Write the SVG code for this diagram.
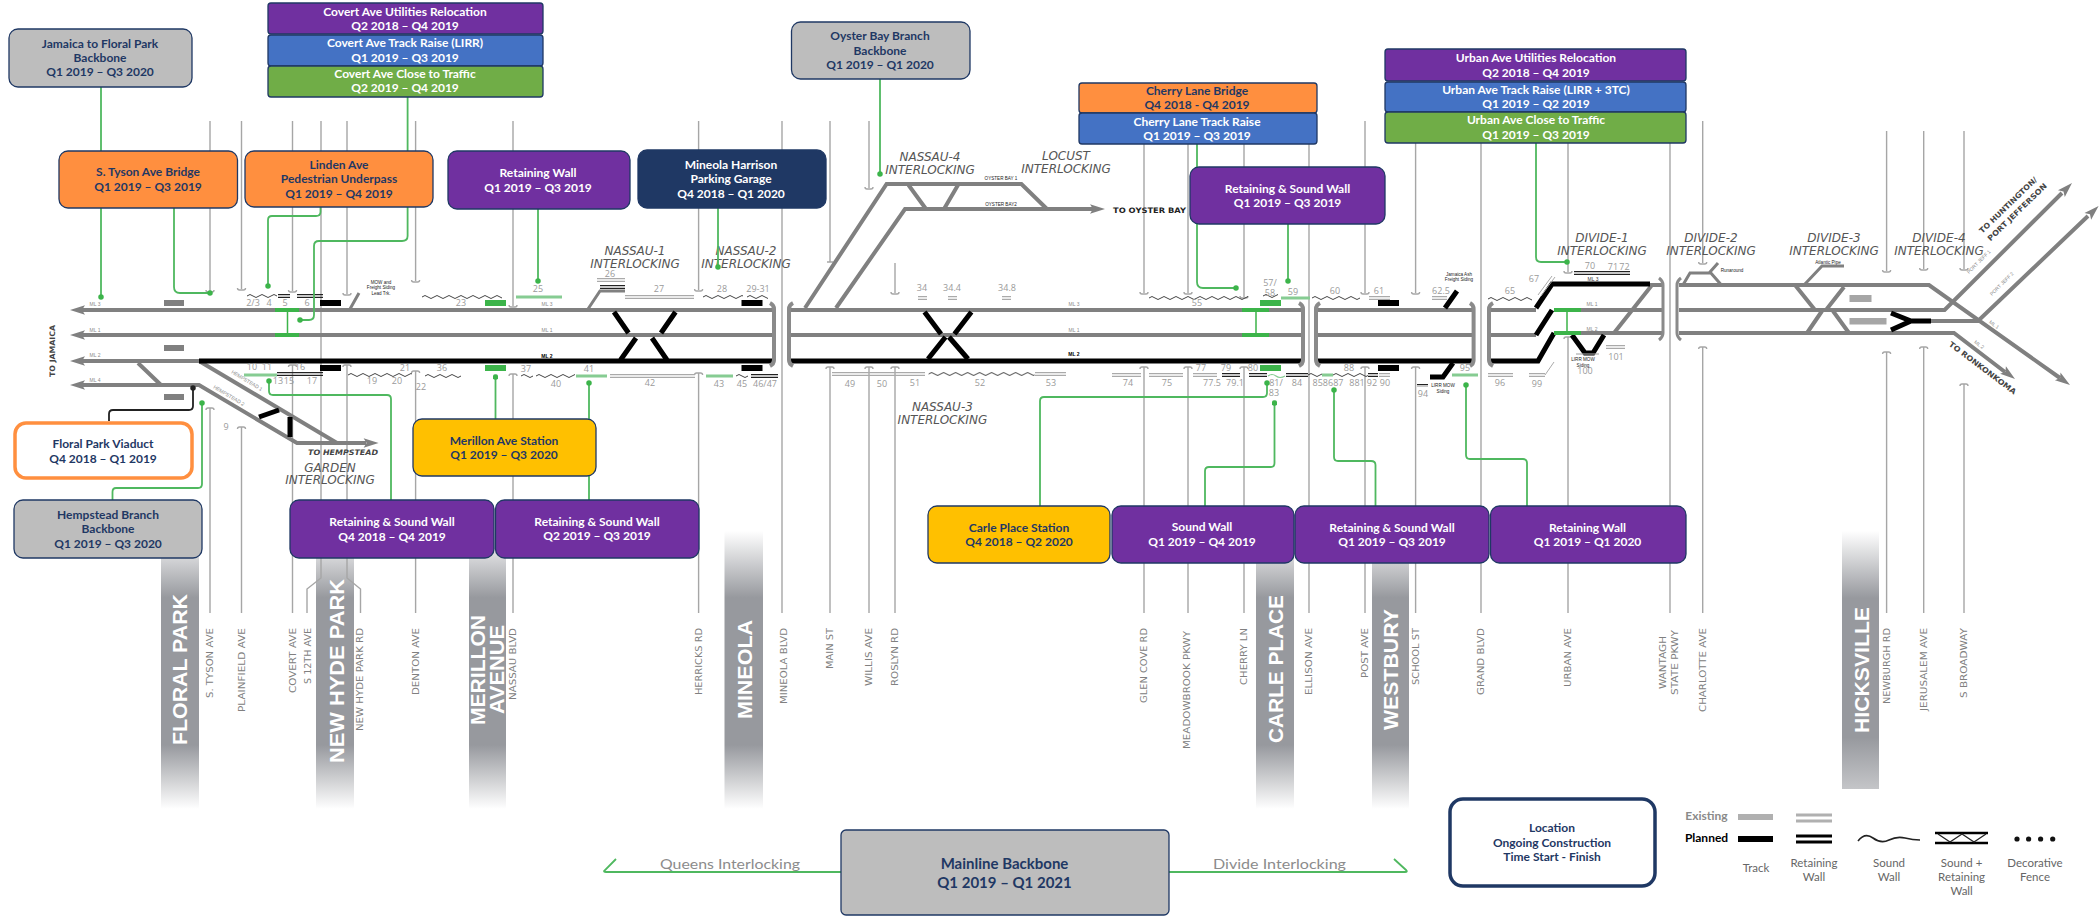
<svg xmlns="http://www.w3.org/2000/svg" width="2100" height="916" viewBox="0 0 2100 916">
<style>
text{font-family:"Liberation Sans",Arial,sans-serif}
.bx{stroke:#1f3864;stroke-width:1.3}
.b{font-family:Lato,"Liberation Sans",sans-serif;font-weight:700;font-size:12px;text-anchor:middle}
.w{fill:#fff}.n{fill:#1f3864}
.pu{fill:#7030a0}.bl{fill:#4472c4}.gr{fill:#70ad47}.or{fill:#ff8f3f}.go{fill:#ffc000}.gy{fill:#bdbdbd}.nv{fill:#1f3864}
.st{fill:none;stroke:#a6a6a6;stroke-width:1.4}
.sl{font-family:"DejaVu Sans",sans-serif;font-size:8.5px;fill:#808080;text-anchor:end}
.bt{font-weight:700;font-size:21px;fill:#fff}
.t{fill:none;stroke:#808080;stroke-width:4}
.t2{fill:none;stroke:#808080;stroke-width:3}
.k{fill:none;stroke:#000;stroke-width:5}
.g{fill:none;stroke:#3cb44a;stroke-width:4}
.ah{fill:#808080}
.c{fill:none;stroke:#4fb85f;stroke-width:1.8;marker-end:url(#dot)}
.cn{fill:none;stroke:#4fb85f;stroke-width:1.8}
.num{font-family:"Open Sans","Liberation Sans",sans-serif;font-size:9px;fill:#9a9a9a;text-anchor:middle}
.ml{font-size:5px;fill:#8a8a8a;text-anchor:middle}
.mk{font-size:4.6px;fill:#222;text-anchor:middle}
.il{font-family:"DejaVu Sans",sans-serif;font-style:italic;font-size:12px;fill:#555;text-anchor:middle}
.dir{font-family:"DejaVu Sans",sans-serif;font-weight:700;font-size:7.5px;fill:#444;text-anchor:middle}
.lg{font-family:Lato,"Liberation Sans",sans-serif;font-size:11.5px;fill:#666;text-anchor:middle}
.sw{fill:url(#wv)}.rg{fill:url(#rg)}.rk{fill:url(#rk)}
</style>
<defs>
<linearGradient id="band" gradientUnits="userSpaceOnUse" x1="0" y1="531" x2="0" y2="809">
<stop offset="0" stop-color="#fff"/><stop offset=".24" stop-color="#97999e"/><stop offset=".77" stop-color="#97999e"/><stop offset="1" stop-color="#fff"/>
</linearGradient>
<linearGradient id="band2" gradientUnits="userSpaceOnUse" x1="0" y1="531" x2="0" y2="789">
<stop offset="0" stop-color="#fff"/><stop offset=".26" stop-color="#97999e"/><stop offset=".8" stop-color="#97999e"/><stop offset="1" stop-color="#c4c5c8"/>
</linearGradient>
<pattern id="wv" patternUnits="userSpaceOnUse" width="12" height="6"><path d="M0 3Q3 0 6 3T12 3" fill="none" stroke="#444" stroke-width="1"/></pattern>
<pattern id="rg" patternUnits="userSpaceOnUse" width="10" height="4"><path d="M0 .6H10M0 3.4H10" stroke="#aaa" stroke-width="1.1"/></pattern>
<pattern id="rk" patternUnits="userSpaceOnUse" width="10" height="4"><path d="M0 .6H10M0 3.4H10" stroke="#222" stroke-width="1.1"/></pattern>
<marker id="dot" viewBox="0 0 6 6" refX="3" refY="3" markerUnits="userSpaceOnUse" markerWidth="5.5" markerHeight="5.5"><circle cx="3" cy="3" r="3" fill="#3cb44a"/></marker>
<marker id="dotk" viewBox="0 0 6 6" refX="3" refY="3" markerUnits="userSpaceOnUse" markerWidth="5.5" markerHeight="5.5"><circle cx="3" cy="3" r="3" fill="#222"/></marker>
<polygon id="ah" class="ah" points="0,0 -15,-4.8 -12,0 -15,4.8"/>
</defs>
<rect width="2100" height="916" fill="#fff"/>

<g id="station-bands">
<g fill="url(#band)">
<rect x="161" y="531" width="38" height="278"/><rect x="316" y="531" width="38" height="278"/><rect x="469" y="531" width="37" height="278"/><rect x="724.5" y="531" width="38.5" height="278"/><rect x="1256" y="531" width="38" height="278"/><rect x="1372" y="531" width="37" height="278"/>
</g>
<rect x="1842" y="531" width="37" height="258" fill="url(#band2)"/>
<text class="bt" transform="translate(187,745) rotate(-90)" textLength="151" lengthAdjust="spacingAndGlyphs">FLORAL PARK</text>
<text class="bt" transform="translate(343.500,763) rotate(-90)" textLength="184" lengthAdjust="spacingAndGlyphs">NEW HYDE PARK</text>
<text class="bt" transform="translate(485,725) rotate(-90)" textLength="110" lengthAdjust="spacingAndGlyphs">MERILLON</text>
<text class="bt" transform="translate(504,714) rotate(-90)" textLength="89" lengthAdjust="spacingAndGlyphs">AVENUE</text>
<text class="bt" transform="translate(751.500,719) rotate(-90)" textLength="99" lengthAdjust="spacingAndGlyphs">MINEOLA</text>
<text class="bt" transform="translate(1282.500,743) rotate(-90)" textLength="148" lengthAdjust="spacingAndGlyphs">CARLE PLACE</text>
<text class="bt" transform="translate(1398,730) rotate(-90)" textLength="121" lengthAdjust="spacingAndGlyphs">WESTBURY</text>
<text class="bt" transform="translate(1868.500,733) rotate(-90)" textLength="126" lengthAdjust="spacingAndGlyphs">HICKSVILLE</text>
</g>

<g id="streets">
<path class="st" d="M210 121V291m-4 -1q0 2 2 2h4q2 0 2 -2M206 410q0 -2 2 -2h4q2 0 2 2M210 408V613"/>
<path class="st" d="M241.500 121V289m-4 -1q0 2 2 2h4q2 0 2 -2M237.500 429q0 -2 2 -2h4q2 0 2 2M241.500 427V613"/>
<path class="st" d="M292.500 121V291m-4 -1q0 2 2 2h4q2 0 2 -2M288.500 367q0 -2 2 -2h4q2 0 2 2M292.500 365V613"/>
<path class="st" d="M321 121V578L307 589V613"/>
<path class="st" d="M347 121V294m-4 -1q0 2 2 2h4q2 0 2 -2M343 367q0 -2 2 -2h4q2 0 2 2M347 365V578L360.500 589V613"/>
<path class="st" d="M415.600 121V281m-4 -1q0 2 2 2h4q2 0 2 -2M411.600 373q0 -2 2 -2h4q2 0 2 2M415.600 371V613"/>
<path class="st" d="M513 121V306m-4 -1q0 2 2 2h4q2 0 2 -2M509 376q0 -2 2 -2h4q2 0 2 2M513 374V613"/>
<path class="st" d="M698.600 121V290m-4 -1q0 2 2 2h4q2 0 2 -2M694.600 375q0 -2 2 -2h4q2 0 2 2M698.600 373V613"/>
<path class="st" d="M782 121V613"/>
<path class="st" d="M830 121V262m-3 0h6M826 369q0 -2 2 -2h4q2 0 2 2M830 367V613"/>
<path class="st" d="M869 121V188m-4 -1q0 2 2 2h4q2 0 2 -2M865 369q0 -2 2 -2h4q2 0 2 2M869 367V613"/>
<path class="st" d="M895 263V293m-4 -1q0 2 2 2h4q2 0 2 -2M891 369q0 -2 2 -2h4q2 0 2 2M895 367V613"/>
<path class="st" d="M1144 144V293m-4 -1q0 2 2 2h4q2 0 2 -2M1140 369q0 -2 2 -2h4q2 0 2 2M1144 367V613"/>
<path class="st" d="M1188 144V293m-4 -1q0 2 2 2h4q2 0 2 -2M1184 369q0 -2 2 -2h4q2 0 2 2M1188 367V613"/>
<path class="st" d="M1244 144V297m-4 -1q0 2 2 2h4q2 0 2 -2M1240 369q0 -2 2 -2h4q2 0 2 2M1244 367V613"/>
<path class="st" d="M1309 144V613"/>
<path class="st" d="M1365 121V293m-4 -1q0 2 2 2h4q2 0 2 -2M1361 369q0 -2 2 -2h4q2 0 2 2M1365 367V613"/>
<path class="st" d="M1415.600 143V293m-4 -1q0 2 2 2h4q2 0 2 -2M1411.600 369q0 -2 2 -2h4q2 0 2 2M1415.600 367V613"/>
<path class="st" d="M1481 143V613"/>
<path class="st" d="M1568 143V272m-4 -1q0 2 2 2h4q2 0 2 -2M1564 339q0 -2 2 -2h4q2 0 2 2M1568 337V613"/>
<path class="st" d="M1670 143V613"/>
<path class="st" d="M1702.700 121V263m-4 -1q0 2 2 2h4q2 0 2 -2M1698.700 349q0 -2 2 -2h4q2 0 2 2M1702.700 347V613"/>
<path class="st" d="M1886.600 131V271m-4 -1q0 2 2 2h4q2 0 2 -2M1882.600 354q0 -2 2 -2h4q2 0 2 2M1886.600 352V613"/>
<path class="st" d="M1923.700 131V269m-4 -1q0 2 2 2h4q2 0 2 -2M1919.700 349q0 -2 2 -2h4q2 0 2 2M1923.700 347V613"/>
<path class="st" d="M1964 131V269m-4 -1q0 2 2 2h4q2 0 2 -2M1960 386q0 -2 2 -2h4q2 0 2 2M1964 384V613"/>
<text class="sl" transform="translate(213,628) rotate(-90)" textLength="70" lengthAdjust="spacingAndGlyphs">S. TYSON AVE</text>
<text class="sl" transform="translate(244.500,628) rotate(-90)" textLength="84" lengthAdjust="spacingAndGlyphs">PLAINFIELD AVE</text>
<text class="sl" transform="translate(295.500,628) rotate(-90)" textLength="65" lengthAdjust="spacingAndGlyphs">COVERT AVE</text>
<text class="sl" transform="translate(311,628) rotate(-90)" textLength="56" lengthAdjust="spacingAndGlyphs">S 12TH AVE</text>
<text class="sl" transform="translate(363,628) rotate(-90)" textLength="103" lengthAdjust="spacingAndGlyphs">NEW HYDE PARK RD</text>
<text class="sl" transform="translate(419,628) rotate(-90)" textLength="67" lengthAdjust="spacingAndGlyphs">DENTON AVE</text>
<text class="sl" transform="translate(516,628) rotate(-90)" textLength="72" lengthAdjust="spacingAndGlyphs">NASSAU BLVD</text>
<text class="sl" transform="translate(701.500,628) rotate(-90)" textLength="67" lengthAdjust="spacingAndGlyphs">HERRICKS RD</text>
<text class="sl" transform="translate(787,628) rotate(-90)" textLength="76" lengthAdjust="spacingAndGlyphs">MINEOLA BLVD</text>
<text class="sl" transform="translate(833,628) rotate(-90)" textLength="41" lengthAdjust="spacingAndGlyphs">MAIN ST</text>
<text class="sl" transform="translate(872,628) rotate(-90)" textLength="58" lengthAdjust="spacingAndGlyphs">WILLIS AVE</text>
<text class="sl" transform="translate(898,628) rotate(-90)" textLength="58" lengthAdjust="spacingAndGlyphs">ROSLYN RD</text>
<text class="sl" transform="translate(1147,628) rotate(-90)" textLength="75" lengthAdjust="spacingAndGlyphs">GLEN COVE RD</text>
<text class="sl" transform="translate(1190,631) rotate(-90)" textLength="118" lengthAdjust="spacingAndGlyphs">MEADOWBROOK PKWY</text>
<text class="sl" transform="translate(1247,628) rotate(-90)" textLength="57" lengthAdjust="spacingAndGlyphs">CHERRY LN</text>
<text class="sl" transform="translate(1312,628) rotate(-90)" textLength="67" lengthAdjust="spacingAndGlyphs">ELLISON AVE</text>
<text class="sl" transform="translate(1368,628) rotate(-90)" textLength="50" lengthAdjust="spacingAndGlyphs">POST AVE</text>
<text class="sl" transform="translate(1419,628) rotate(-90)" textLength="57" lengthAdjust="spacingAndGlyphs">SCHOOL ST</text>
<text class="sl" transform="translate(1484,628) rotate(-90)" textLength="67" lengthAdjust="spacingAndGlyphs">GRAND BLVD</text>
<text class="sl" transform="translate(1571,628) rotate(-90)" textLength="59" lengthAdjust="spacingAndGlyphs">URBAN AVE</text>
<text class="sl" transform="translate(1666,636) rotate(-90)" textLength="53" lengthAdjust="spacingAndGlyphs">WANTAGH</text>
<text class="sl" transform="translate(1678,630) rotate(-90)" textLength="65" lengthAdjust="spacingAndGlyphs">STATE PKWY</text>
<text class="sl" transform="translate(1706,628) rotate(-90)" textLength="84" lengthAdjust="spacingAndGlyphs">CHARLOTTE AVE</text>
<text class="sl" transform="translate(1890,628) rotate(-90)" textLength="76" lengthAdjust="spacingAndGlyphs">NEWBURGH RD</text>
<text class="sl" transform="translate(1927,628) rotate(-90)" textLength="83" lengthAdjust="spacingAndGlyphs">JERUSALEM AVE</text>
<text class="sl" transform="translate(1967,628) rotate(-90)" textLength="70" lengthAdjust="spacingAndGlyphs">S BROADWAY</text>
</g>

<g id="tracks">
<path class="t" d="M80 310H772M80 335H772M80 361H199M80 385H199L297 443H366M199 361L337 443M138 363L161 385"/>
<path class="t" d="M791 310H1301M791 335H1301M1318 310H1472M1318 335H1472M1491 310H1536M1491 335H1536"/>
<path class="t2" d="M350 309L359 293M588 309L600 291H625"/>
<path class="t" d="M805 308L886.600 184H1021.400L1047 209M836 308L905 209H1093M908.500 185L926 209M958 185L944 209"/>
<path class="t" d="M1650 285H1663M1581 310H1663M1554 333H1663M1614 333L1652 285"/>
<path class="t" d="M1679 285H1929L2060 378M1679 310H1944.600L2062 193M1679 333H1954L2005 372M1931 321H1978L2088 216"/>
<path class="t" d="M1795 285L1815 310M1844 287L1826 310M1822 311L1807 333M1833 311L1849 333"/>
<path class="t2" d="M1805 284L1822 266H1844M1683.500 284L1690 273H1710M1720.500 284L1710 272L1718 263"/>
<path class="k" d="M199 361H774M789 361H1303M1316 361H1473M1489 361H1538L1554 333"/>
<path class="k" d="M1536 308L1552 284H1650M1536 335L1552 310"/>
<path class="k" d="M614 312L628.500 333M675.500 312L661 333M636 338L620.500 360M652 338L667 360"/>
<path class="k" d="M924.500 312L941 334M971.400 312L954.500 334M945.500 337L928 359M949 337L968 359"/>
<path class="k" d="M259 417L279 410M290 417V437M1445 308L1457 291M1453 363L1443 377H1430M1572 335L1585 353H1593L1604 335M1891 313L1911 321H1931M1891 330L1911 321"/>
<use href="#ah" transform="translate(70,310) rotate(180)"/><use href="#ah" transform="translate(70,335) rotate(180)"/><use href="#ah" transform="translate(70,361) rotate(180)"/><use href="#ah" transform="translate(70,385) rotate(180)"/>
<use href="#ah" transform="translate(378.600,443)"/><use href="#ah" transform="translate(1105,209)"/>
<use href="#ah" transform="translate(2070,385) rotate(35)"/><use href="#ah" transform="translate(2072,183) rotate(-45)"/><use href="#ah" transform="translate(2015,379) rotate(37)"/><use href="#ah" transform="translate(2098.600,206) rotate(-44)"/>
<g fill="none" stroke="#8a8a8a" stroke-width="4">
<path d="M770 303Q774 305 774 309V360Q774 364 770 366"/><path d="M793 303Q789 305 789 309V360Q789 364 793 366"/>
<path d="M1299 303Q1303 305 1303 309V360Q1303 364 1299 366"/><path d="M1320 303Q1316 305 1316 309V360Q1316 364 1320 366"/>
<path d="M1470 303Q1473.600 305 1473.600 309V360Q1473.600 364 1470 366"/><path d="M1493 303Q1489 305 1489 309V360Q1489 364 1493 366"/>
<path stroke-width="3" d="M1659 278Q1663 281 1663 285V333Q1663 337 1659 340"/><path stroke-width="3" d="M1681 278Q1677 281 1677 285V333Q1677 337 1681 340"/>
</g>
<g fill="#808080"><rect x="164" y="300" width="20" height="6"/><rect x="164" y="345" width="20" height="6"/><rect x="164" y="394" width="20" height="6"/></g>
<g fill="#a6a6a6"><rect x="1849.500" y="295" width="22" height="7"/><rect x="1849.500" y="318" width="37" height="6.500"/></g>
<g fill="#000"><rect x="320" y="300" width="21" height="6"/><rect x="320" y="365" width="21" height="6"/><rect x="741.500" y="300" width="21" height="6"/><rect x="741.500" y="365" width="21" height="6"/><rect x="1378" y="300" width="21" height="6"/><rect x="1378" y="365" width="21" height="6"/></g>
<g fill="#3cb44a"><rect x="485" y="300" width="21" height="6"/><rect x="485" y="365" width="21" height="6"/><rect x="1260" y="300" width="21" height="6"/><rect x="1260" y="365" width="21" height="6"/></g>
<path class="g" d="M275 310H299M275 335H299M1242 310H1269M1242 335H1269M1554 310H1581M1554 333H1581"/>
<path fill="none" stroke="#3cb44a" stroke-width="1.500" d="M287.500 310V335M1256 310V335M1567 310V333"/>
</g>

<g id="walls">
<g class="sw">
<rect transform="translate(247,293)" width="30" height="6"/><rect transform="translate(422,294)" width="80" height="6"/><rect transform="translate(703,294)" width="40" height="6"/><rect transform="translate(747,294)" width="21" height="6"/>
<rect transform="translate(348,372)" width="64" height="6"/><rect transform="translate(425,373)" width="36" height="6"/><rect transform="translate(521,373)" width="12" height="6"/><rect transform="translate(536,373)" width="39" height="6"/><rect transform="translate(736,373)" width="12" height="6"/><rect transform="translate(928.600,371)" width="106" height="6"/>
<rect transform="translate(1149,295)" width="99" height="6"/><rect transform="translate(1263,293)" width="15" height="6"/><rect transform="translate(1312,295)" width="48" height="6"/><rect transform="translate(1488,296)" width="44" height="6"/>
<rect transform="translate(1308,372)" width="14" height="6"/><rect transform="translate(1333,372)" width="35" height="6"/>
</g>
<g class="rg">
<rect transform="translate(597,278)" width="28" height="4"/><rect transform="translate(625,295)" width="69" height="4"/><rect transform="translate(610,374)" width="85" height="4"/><rect transform="translate(832,372)" width="93" height="4"/><rect transform="translate(1035,372)" width="31" height="4"/><rect transform="translate(918,296)" width="9" height="4"/><rect transform="translate(948,296)" width="9" height="4"/><rect transform="translate(1002,296)" width="9" height="4"/>
<rect transform="translate(1112,373)" width="29" height="4"/><rect transform="translate(1149,373)" width="34" height="4"/><rect transform="translate(1193,373)" width="24" height="4"/><rect transform="translate(1379,373)" width="11" height="4"/><rect transform="translate(1488,373)" width="25" height="4"/><rect transform="translate(1369,296)" width="21" height="4"/><rect transform="translate(1432,296)" width="15" height="4"/><rect transform="translate(1606,345)" width="19" height="4"/><rect transform="translate(1529,373)" width="16" height="4"/>
</g>
<path fill="none" stroke="#aaa" stroke-width="1" d="M1538 295L1552 276M1541 296L1555 277M1545 375L1554 362"/>
<g class="rk">
<rect transform="translate(278,294)" width="12" height="4"/><rect transform="translate(297,294)" width="26" height="4"/><rect transform="translate(600,285)" width="25" height="4"/><rect transform="translate(277,372)" width="46" height="4"/><rect transform="translate(751,374)" width="27" height="4"/><rect transform="translate(1222,373)" width="18" height="4"/><rect transform="translate(1249,373)" width="18" height="4"/><rect transform="translate(1286,373)" width="22" height="4"/><rect transform="translate(1368,373)" width="10" height="4"/><rect transform="translate(1574,271)" width="56" height="4"/><rect transform="translate(1417,384)" width="11" height="3"/>
</g>
<path fill="none" stroke="#86cc92" stroke-width="3" d="M516 297H562M244 375H277M576 376H607M706 376H733M1281 298H1310M1322 375H1333M1452 375H1478"/>
<path fill="none" stroke="#86cc92" stroke-width="1.200" d="M1268 376q4 -3 8 0t9 0"/>
<path fill="none" stroke="#a6a6a6" stroke-width="1.100" d="M1576 354H1599"/>
</g>

<g id="track-labels">
<text class="num" x="253" y="306">2/3</text><text class="num" x="269" y="306">4</text><text class="num" x="285" y="306">5</text><text class="num" x="307" y="306">6</text>
<text class="num" x="252" y="370">10</text><text class="num" x="267" y="370">11</text><text class="num" x="278" y="384">13</text><text class="num" x="289" y="384">15</text><text class="num" x="300" y="370">16</text><text class="num" x="312" y="384">17</text><text class="num" x="372" y="384">19</text><text class="num" x="397" y="384">20</text><text class="num" x="405" y="371">21</text><text class="num" x="442" y="371">36</text><text class="num" x="421" y="390">22</text>
<text class="num" x="226" y="430">9</text>
<text class="num" x="461" y="306">23</text><text class="num" x="538" y="292">25</text><text class="num" x="610" y="277">26</text><text class="num" x="659" y="292">27</text><text class="num" x="722" y="292">28</text><text class="num" x="758" y="292">29-31</text>
<text class="num" x="526" y="372">37</text><text class="num" x="556" y="387">40</text><text class="num" x="589" y="372">41</text><text class="num" x="650" y="386">42</text><text class="num" x="719" y="387">43</text><text class="num" x="742" y="387">45</text><text class="num" x="765" y="387">46/47</text>
<text class="num" x="922" y="291">34</text><text class="num" x="952" y="291">34.4</text><text class="num" x="1007" y="291">34.8</text>
<text class="num" x="850" y="387">49</text><text class="num" x="882" y="387">50</text><text class="num" x="915" y="386">51</text><text class="num" x="980" y="386">52</text><text class="num" x="1051" y="386">53</text>
<text class="num" x="1197" y="306">55</text><text class="num" x="1270" y="286">57/</text><text class="num" x="1270" y="296">58</text><text class="num" x="1293" y="295">59</text><text class="num" x="1335" y="294">60</text><text class="num" x="1379" y="294">61</text><text class="num" x="1441" y="294">62.5</text><text class="num" x="1510" y="294">65</text>
<text class="num" x="1128" y="386">74</text><text class="num" x="1167" y="386">75</text><text class="num" x="1201" y="371">77</text><text class="num" x="1212" y="386">77.5</text><text class="num" x="1226" y="371">79</text><text class="num" x="1235" y="386">79.1</text><text class="num" x="1253" y="371">80</text><text class="num" x="1276" y="386">81/</text><text class="num" x="1274" y="396">83</text><text class="num" x="1297" y="386">84</text><text class="num" x="1328" y="386">858687</text><text class="num" x="1349" y="371">88</text><text class="num" x="1357" y="386">881</text><text class="num" x="1372" y="386">92</text><text class="num" x="1385" y="386">90</text><text class="num" x="1423" y="397">94</text><text class="num" x="1465" y="371">95</text><text class="num" x="1500" y="386">96</text><text class="num" x="1537" y="387">99</text>
<text class="num" x="1534" y="282">67</text><text class="num" x="1590" y="269">70</text><text class="num" x="1613" y="270">71</text><text class="num" x="1624.500" y="270">72</text><text class="num" x="1585" y="374">100</text><text class="num" x="1616" y="360">101</text>
<text class="ml" x="95" y="306">ML 3</text><text class="ml" x="95" y="332">ML 1</text><text class="ml" x="95" y="357">ML 2</text><text class="ml" x="95" y="382">ML 4</text>
<text class="ml" x="547" y="306">ML 3</text><text class="ml" x="547" y="332">ML 1</text><text class="ml" x="547" y="358" style="fill:#000;font-weight:700">ML 2</text>
<text class="ml" x="1074" y="306">ML 3</text><text class="ml" x="1074" y="332">ML 1</text><text class="ml" x="1074" y="356" style="fill:#000;font-weight:700">ML 2</text>
<text class="ml" x="1593" y="281" style="fill:#333">ML 3</text><text class="ml" x="1592" y="306">ML 1</text><text class="ml" x="1592" y="331">ML 2</text>
<text class="ml" transform="translate(1980,263) rotate(-45)">PORT JEFF 1</text><text class="ml" transform="translate(2003,285) rotate(-45)">PORT JEFF 2</text>
<text class="ml" transform="translate(1993,326) rotate(37)">ML 1</text><text class="ml" transform="translate(1978,346) rotate(37)">ML 2</text>
<text class="ml" transform="translate(246,382) rotate(31)">HEMPSTEAD 1</text><text class="ml" transform="translate(228,397) rotate(31)">HEMPSTEAD 2</text>
<text class="mk" x="1001" y="180">OYSTER BAY 1</text>
<text class="mk" x="1001" y="206">OYSTER BAY2</text>
<text class="mk" x="381" y="284">MOW and</text><text class="mk" x="381" y="289">Freight Siding</text><text class="mk" x="381" y="295">Lead Trk.</text>
<text class="mk" x="1459" y="276">Jamaica Ash</text><text class="mk" x="1459" y="281">Freight Siding</text>
<text class="mk" x="1443" y="387">LIRR MOW</text><text class="mk" x="1443" y="393">Siding</text>
<text class="mk" x="1583" y="361">LIRR MOW</text><text class="mk" x="1583" y="367">Siding</text>
<text class="mk" x="1828" y="264">Atlantic Pipe</text><text class="mk" x="1732" y="272">Runaround</text>
<text class="il" x="330" y="472">GARDEN</text><text class="il" x="330" y="484">INTERLOCKING</text>
<text class="il" x="635" y="255">NASSAU-1</text><text class="il" x="635" y="268">INTERLOCKING</text>
<text class="il" x="746" y="255">NASSAU-2</text><text class="il" x="746" y="268">INTERLOCKING</text>
<text class="il" x="930" y="161">NASSAU-4</text><text class="il" x="930" y="174">INTERLOCKING</text>
<text class="il" x="1066" y="160">LOCUST</text><text class="il" x="1066" y="173">INTERLOCKING</text>
<text class="il" x="942.400" y="411">NASSAU-3</text><text class="il" x="942.400" y="424">INTERLOCKING</text>
<text class="il" x="1602" y="242">DIVIDE-1</text><text class="il" x="1602" y="255">INTERLOCKING</text>
<text class="il" x="1711" y="242">DIVIDE-2</text><text class="il" x="1711" y="255">INTERLOCKING</text>
<text class="il" x="1834" y="242">DIVIDE-3</text><text class="il" x="1834" y="255">INTERLOCKING</text>
<text class="il" x="1939" y="242">DIVIDE-4</text><text class="il" x="1939" y="255">INTERLOCKING</text>
<text class="dir" transform="translate(55,351) rotate(-90)" textLength="52" lengthAdjust="spacingAndGlyphs">TO JAMAICA</text>
<text class="dir" x="343" y="455" font-style="italic" textLength="70" lengthAdjust="spacingAndGlyphs">TO HEMPSTEAD</text>
<text class="dir" x="1149.500" y="213" style="fill:#222" textLength="73" lengthAdjust="spacingAndGlyphs">TO OYSTER BAY</text>
<text class="dir" transform="translate(1981,370) rotate(37)" textLength="82" lengthAdjust="spacingAndGlyphs">TO RONKONKOMA</text>
<text class="dir" transform="translate(2010,207) rotate(-44)" textLength="77" lengthAdjust="spacingAndGlyphs">TO HUNTINGTON/</text>
<text class="dir" transform="translate(2019,214) rotate(-44)" textLength="79" lengthAdjust="spacingAndGlyphs">PORT JEFFERSON</text>
</g>

<g id="connectors">
<path class="c" d="M101 87V297"/>
<path class="c" d="M174 208V287Q174 293 180 293H210"/>
<path class="c" d="M320.500 207V212Q320.500 216 316 216H272Q268 216 268 220V286"/>
<path class="c" d="M407.600 97V236Q407.600 241 402 241H319Q314 241 314 246V315Q314 320 309 320H300"/>
<path class="c" d="M538 209V281"/>
<path class="c" d="M718 208V267"/>
<path class="c" d="M880 79V174"/>
<path class="c" d="M1197 144V282Q1197 288 1203 288H1236"/>
<path class="c" d="M1288 224V281"/>
<path class="c" d="M1536 143V257Q1536 262 1541 262H1567"/>
<path fill="none" stroke="#222" stroke-width="1.800" marker-end="url(#dotk)" d="M109 421V414Q109 410 113 410H189Q193 410 193 406V388"/>
<path class="c" d="M112.500 500V492Q112.500 488 116 488H198Q202 488 202 484V403"/>
<path class="c" d="M391 500V399Q391 395 387 395H273Q269 395 269 391V381"/>
<path class="c" d="M495.500 419V377"/>
<path class="cn" d="M589 500V476"/>
<path class="c" d="M589 419V383"/>
<path class="c" d="M1040 506V401Q1040 397 1044 397H1263Q1267 397 1267 393V383"/>
<path class="c" d="M1205 506V471Q1205 467 1209 467H1271Q1274.500 467 1274.500 463V403"/>
<path class="c" d="M1375.500 506V465Q1375.500 461 1371 461H1338Q1334 461 1334 457V390"/>
<path class="c" d="M1527 506V463Q1527 459 1523 459H1470Q1466 459 1466 455V385"/>
<path class="cn" d="M616 859L604 871Q604 872 606 872H841"/>
<path class="cn" d="M1169 872H1405Q1408 872 1406 870L1394 859"/>
<text x="730" y="869" text-anchor="middle" font-size="13" fill="#8c8c8c" style="font-family:Lato,sans-serif" textLength="140" lengthAdjust="spacingAndGlyphs">Queens Interlocking</text>
<text x="1279.500" y="869" text-anchor="middle" font-size="13" fill="#8c8c8c" style="font-family:Lato,sans-serif" textLength="133" lengthAdjust="spacingAndGlyphs">Divide Interlocking</text>
</g>

<g id="jamaica"><rect class="bx gy" x="9" y="29" width="183" height="58" rx="9"/><text class="b n" x="100" y="48">Jamaica to Floral Park</text><text class="b n" x="100" y="62">Backbone</text><text class="b n" x="100" y="76">Q1 2019 – Q3 2020</text></g>
<g id="covert-util"><rect class="bx pu" x="268" y="3" width="275" height="31" rx="3"/><text class="b w" x="405" y="16">Covert Ave Utilities Relocation</text><text class="b w" x="405" y="30">Q2 2018 – Q4 2019</text></g>
<g id="covert-track"><rect class="bx bl" x="268" y="35" width="275" height="31" rx="3"/><text class="b w" x="405" y="47">Covert Ave Track Raise (LIRR)</text><text class="b w" x="405" y="62">Q1 2019 – Q3 2019</text></g>
<g id="covert-close"><rect class="bx gr" x="268" y="66" width="275" height="31" rx="3"/><text class="b w" x="405" y="78">Covert Ave Close to Traffic</text><text class="b w" x="405" y="92">Q2 2019 – Q4 2019</text></g>
<g id="tyson"><rect class="bx or" x="59" y="151" width="178.500" height="57" rx="9"/><text class="b n" x="148" y="176">S. Tyson Ave Bridge</text><text class="b n" x="148" y="191">Q1 2019 – Q3 2019</text></g>
<g id="linden"><rect class="bx or" x="245" y="151" width="188" height="56" rx="9"/><text class="b n" x="339" y="169">Linden Ave</text><text class="b n" x="339" y="183">Pedestrian Underpass</text><text class="b n" x="339" y="198">Q1 2019 – Q4 2019</text></g>
<g id="retaining-1"><rect class="bx pu" x="448" y="151" width="182" height="58" rx="9"/><text class="b w" x="538" y="177">Retaining Wall</text><text class="b w" x="538" y="192">Q1 2019 – Q3 2019</text></g>
<g id="mineola-garage"><rect class="bx nv" x="638" y="150" width="188" height="58" rx="9"/><text class="b w" x="731" y="169">Mineola Harrison</text><text class="b w" x="731" y="183">Parking Garage</text><text class="b w" x="731" y="198">Q4 2018 – Q1 2020</text></g>
<g id="oyster"><rect class="bx gy" x="791.500" y="22" width="178.500" height="57" rx="9"/><text class="b n" x="880" y="40">Oyster Bay Branch</text><text class="b n" x="880" y="55">Backbone</text><text class="b n" x="880" y="69">Q1 2019 – Q1 2020</text></g>
<g id="cherry-bridge"><rect class="bx or" x="1079" y="83" width="238" height="30" rx="3"/><text class="b n" x="1197" y="95">Cherry Lane Bridge</text><text class="b n" x="1197" y="109">Q4 2018 - Q4 2019</text></g>
<g id="cherry-track"><rect class="bx bl" x="1079" y="113" width="238" height="31" rx="3"/><text class="b w" x="1197" y="126">Cherry Lane Track Raise</text><text class="b w" x="1197" y="140">Q1 2019 – Q3 2019</text></g>
<g id="cherry-wall"><rect class="bx pu" x="1190" y="167" width="195" height="57" rx="9"/><text class="b w" x="1287.500" y="193">Retaining &amp; Sound Wall</text><text class="b w" x="1287.500" y="207">Q1 2019 – Q3 2019</text></g>
<g id="urban-util"><rect class="bx pu" x="1385" y="49" width="301" height="32" rx="3"/><text class="b w" x="1536" y="62">Urban Ave Utilities Relocation</text><text class="b w" x="1536" y="77">Q2 2018 – Q4 2019</text></g>
<g id="urban-track"><rect class="bx bl" x="1385" y="82" width="301" height="30" rx="3"/><text class="b w" x="1536" y="94">Urban Ave Track Raise (LIRR + 3TC)</text><text class="b w" x="1536" y="108">Q1 2019 – Q2 2019</text></g>
<g id="urban-close"><rect class="bx gr" x="1385" y="112" width="301" height="31" rx="3"/><text class="b w" x="1536" y="124">Urban Ave Close to Traffic</text><text class="b w" x="1536" y="139">Q1 2019 – Q3 2019</text></g>
<g id="floral-viaduct"><rect x="15" y="423" width="177" height="55" rx="11" fill="#fff" stroke="#ff8f3f" stroke-width="3.500"/><text class="b n" x="103" y="448">Floral Park Viaduct</text><text class="b n" x="103" y="463">Q4 2018 – Q1 2019</text></g>
<g id="hempstead"><rect class="bx gy" x="14" y="500" width="188" height="58" rx="9"/><text class="b n" x="108" y="519">Hempstead Branch</text><text class="b n" x="108" y="533">Backbone</text><text class="b n" x="108" y="548">Q1 2019 – Q3 2020</text></g>
<g id="merillon"><rect class="bx go" x="413" y="419" width="183" height="57" rx="9"/><text class="b n" x="504" y="445">Merillon Ave Station</text><text class="b n" x="504" y="459">Q1 2019 – Q3 2020</text></g>
<g id="wall-a"><rect class="bx pu" x="290" y="500" width="204" height="58" rx="9"/><text class="b w" x="392" y="526">Retaining &amp; Sound Wall</text><text class="b w" x="392" y="541">Q4 2018 – Q4 2019</text></g>
<g id="wall-b"><rect class="bx pu" x="495.500" y="500" width="203.500" height="58" rx="9"/><text class="b w" x="597" y="526">Retaining &amp; Sound Wall</text><text class="b w" x="597" y="540">Q2 2019 – Q3 2019</text></g>
<g id="carle"><rect class="bx go" x="928" y="506" width="182" height="57" rx="9"/><text class="b n" x="1019" y="532">Carle Place Station</text><text class="b n" x="1019" y="546">Q4 2018 – Q2 2020</text></g>
<g id="sound"><rect class="bx pu" x="1112" y="506" width="182" height="57" rx="9"/><text class="b w" x="1202" y="531">Sound Wall</text><text class="b w" x="1202" y="546">Q1 2019 – Q4 2019</text></g>
<g id="wall-c"><rect class="bx pu" x="1295" y="506" width="194" height="57" rx="9"/><text class="b w" x="1392" y="532">Retaining &amp; Sound Wall</text><text class="b w" x="1392" y="546">Q1 2019 – Q3 2019</text></g>
<g id="retaining-2"><rect class="bx pu" x="1490.500" y="506" width="195.500" height="57" rx="9"/><text class="b w" x="1587.500" y="532">Retaining Wall</text><text class="b w" x="1587.500" y="546">Q1 2019 – Q1 2020</text></g>
<g id="mainline"><rect class="bx gy" x="841" y="830" width="328" height="85" rx="5"/><text class="b n" x="1004.500" y="869" style="font-size:15px">Mainline Backbone</text><text class="b n" x="1004.500" y="888" style="font-size:15px">Q1 2019 – Q1 2021</text></g>
<g id="legend-key"><rect x="1450" y="799" width="205" height="87" rx="13" fill="#fff" stroke="#1f3864" stroke-width="3.500"/><text class="b n" x="1552" y="832">Location</text><text class="b n" x="1552" y="847">Ongoing Construction</text><text class="b n" x="1552" y="861">Time Start - Finish</text></g>

<g id="legend">
<text class="b" x="1706.500" y="820" style="fill:#8a8a8a">Existing</text>
<text class="b" x="1706.500" y="842" style="fill:#000">Planned</text>
<rect x="1738" y="814" width="35" height="6" fill="#b0b0b0"/><rect x="1738" y="836" width="35" height="6" fill="#000"/>
<path fill="none" stroke="#b0b0b0" stroke-width="2.800" d="M1796 815H1832M1796 821H1832"/>
<path fill="none" stroke="#000" stroke-width="2.800" d="M1796 836H1832M1796 842H1832"/>
<path fill="none" stroke="#222" stroke-width="1.600" d="M1858 841Q1865 832 1873 838T1889 840T1905 838T1920 840"/>
<path fill="none" stroke="#000" stroke-width="2.500" d="M1935 833H1988M1935 843H1988"/>
<path fill="none" stroke="#222" stroke-width="1.300" d="M1938 834L1950 842L1962 834L1974 842L1986 834"/>
<g fill="#111"><circle cx="2017" cy="839" r="2.600"/><circle cx="2028.600" cy="839" r="2.600"/><circle cx="2040.600" cy="839" r="2.600"/><circle cx="2052.700" cy="839" r="2.600"/></g>
<text class="lg" x="1756" y="872">Track</text>
<text class="lg" x="1814" y="867">Retaining</text><text class="lg" x="1814" y="881">Wall</text>
<text class="lg" x="1889" y="867">Sound</text><text class="lg" x="1889" y="881">Wall</text>
<text class="lg" x="1961.600" y="867">Sound +</text><text class="lg" x="1961.600" y="881">Retaining</text><text class="lg" x="1961.600" y="895">Wall</text>
<text class="lg" x="2035" y="867">Decorative</text><text class="lg" x="2035" y="881">Fence</text>
</g>
</svg>
